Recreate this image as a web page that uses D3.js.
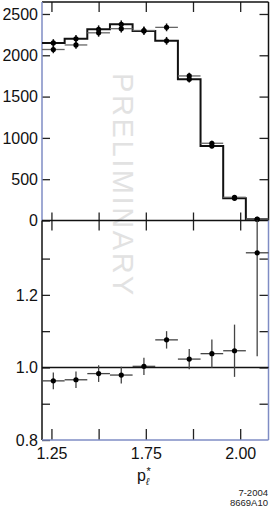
<!DOCTYPE html>
<html><head><meta charset="utf-8">
<script src="https://cdn.jsdelivr.net/npm/d3@7"></script>
<style>
html,body{margin:0;padding:0;background:#fff;}
svg{display:block;}
text{font-family:"Liberation Sans",Arial,Helvetica,sans-serif;}
</style></head>
<body>
<script>
// ---- data ----
const binEdges = [1.475,1.535,1.595,1.655,1.715,1.775,1.835,1.895,1.955,2.015,2.075];
const mcCounts   = [2150,2200,2315,2375,2295,2175,1710,902,269,14];
const dataCounts = [2070,2125,2272,2322,2300,2338,1750,935,281,18];
const countErr   = [45,45,47,47,47,47,40,30,17,4];
const ratio    = [0.963,0.966,0.983,0.979,1.003,1.076,1.023,1.038,1.046,1.316];
const ratioErr = [0.023,0.023,0.023,0.023,0.024,0.024,0.028,0.039,0.072,0.285];
const xTickValues = [1.5,1.625,1.75,1.875,2.0];
const xTickLabels = ["1.25","","1.75","","2.00"];
const upperTicks = [0,500,1000,1500,2000,2500];
const lowerTicks = [0.8,0.9,1.0,1.1,1.2,1.3];
const lowerLabels = {"0.8":"0.8","1":"1.0","1.2":"1.2"};

const W=272,H=509;
const L=42, R=268.5, T=2, MID=220.5, B=440;
const svg=d3.select("body").append("svg").attr("width",W).attr("height",H);

const x=d3.scaleLinear().domain([binEdges[0],binEdges[binEdges.length-1]]).range([L,R]);
const yU=d3.scaleLinear().domain([0,2645]).range([MID,T]);
const yL=d3.scaleLinear().domain([0.8,1.405]).range([B,MID]);

const centers=binEdges.slice(0,-1).map((e,i)=>(e+binEdges[i+1])/2);

// watermark
svg.append("text")
  .attr("transform",`translate(113,73) rotate(90)`)
  .attr("font-size",29).attr("fill","#e2e2e2").attr("letter-spacing",2.6)
  .text("PRELIMINARY");

const fs=16;
function styleAxis(g){
  g.select(".domain").remove();
  g.selectAll(".tick line").attr("stroke","#222").attr("stroke-width",1.3);
  g.selectAll("text").attr("font-size",fs).attr("fill","#111").attr("font-family","Liberation Sans, Arial, sans-serif");
}
// upper y axes
svg.append("g").attr("transform",`translate(${L},0)`)
  .call(d3.axisLeft(yU).tickValues(upperTicks).tickSize(-8).tickPadding(4).tickFormat(d3.format("d")))
  .call(styleAxis);
svg.append("g").attr("transform",`translate(${R},0)`)
  .call(d3.axisRight(yU).tickValues(upperTicks.slice(1)).tickSize(-9).tickFormat(""))
  .call(styleAxis);
// lower y axes
svg.append("g").attr("transform",`translate(${L},0)`)
  .call(d3.axisLeft(yL).tickValues(lowerTicks).tickSize(-8).tickPadding(4)
    .tickFormat(d=>lowerLabels[String(+d.toFixed(2))]||""))
  .call(styleAxis);
svg.append("g").attr("transform",`translate(${R},0)`)
  .call(d3.axisRight(yL).tickValues(lowerTicks.slice(1)).tickSize(-9).tickFormat(""))
  .call(styleAxis);
// x axes
svg.append("g").attr("transform",`translate(0,${T})`)
  .call(d3.axisTop(x).tickValues(xTickValues).tickSize(-10).tickFormat("")).call(styleAxis);
svg.append("g").attr("transform",`translate(0,${MID})`)
  .call(d3.axisBottom(x).tickValues(xTickValues).tickSize(-8).tickFormat("")).call(styleAxis);
svg.append("g").attr("transform",`translate(0,${MID})`)
  .call(d3.axisTop(x).tickValues(xTickValues).tickSize(-10).tickFormat("")).call(styleAxis);
svg.append("g").attr("transform",`translate(0,${B})`)
  .call(d3.axisBottom(x).tickValues(xTickValues).tickSize(-11).tickPadding(8)
    .tickFormat((d,i)=>xTickLabels[i])).call(styleAxis);

// frame
const frame=[
  [L,T,R,T,"#111"],[R,T,R,MID,"#111"],[L,T,L,MID,"#7f8cc4"],
  [L,MID,R,MID,"#111"],[L,MID,L,B,"#111"],[R,MID,R,B,"#7f8cc4"],[L,B,R,B,"#7f8cc4"]
];
svg.selectAll("line.frame").data(frame).enter().append("line").attr("class","frame")
  .attr("x1",d=>d[0]).attr("y1",d=>d[1]).attr("x2",d=>d[2]).attr("y2",d=>d[3])
  .attr("stroke",d=>d[4]).attr("stroke-width",1.5);

// histogram (step)
const stepPts=[];
mcCounts.forEach((v,i)=>{stepPts.push([x(binEdges[i]),yU(v)]);stepPts.push([x(binEdges[i+1]),yU(v)]);});
svg.append("path").attr("d",d3.line()(stepPts)).attr("fill","none")
  .attr("stroke","#111").attr("stroke-width",2);

// data points upper: horizontal bars
const up=svg.append("g");
dataCounts.forEach((v,i)=>{
  up.append("line").attr("x1",x(binEdges[i])).attr("x2",x(binEdges[i+1]))
    .attr("y1",yU(v)).attr("y2",yU(v)).attr("stroke","#666").attr("stroke-width",1.3);
});
[mcCounts,dataCounts].forEach(arr=>{
  arr.forEach((v,i)=>{
    up.append("line").attr("x1",x(centers[i])).attr("x2",x(centers[i]))
      .attr("y1",yU(v-countErr[i])).attr("y2",yU(v+countErr[i])).attr("stroke","#111").attr("stroke-width",1.5);
    up.append("circle").attr("cx",x(centers[i])).attr("cy",yU(v)).attr("r",2.6).attr("fill","#000");
  });
});

// lower panel
svg.append("line").attr("x1",L).attr("x2",R).attr("y1",yL(1)).attr("y2",yL(1))
  .attr("stroke","#111").attr("stroke-width",1.5);
const lo=svg.append("g");
ratio.forEach((v,i)=>{
  lo.append("line").attr("x1",x(binEdges[i])).attr("x2",x(binEdges[i+1]))
    .attr("y1",yL(v)).attr("y2",yL(v)).attr("stroke","#444").attr("stroke-width",1.3);
  lo.append("line").attr("x1",x(centers[i])).attr("x2",x(centers[i]))
    .attr("y1",Math.min(yL(v-ratioErr[i]),B)).attr("y2",Math.max(yL(v+ratioErr[i]),MID))
    .attr("stroke","#444").attr("stroke-width",1.3);
  lo.append("circle").attr("cx",x(centers[i])).attr("cy",yL(v)).attr("r",2.6).attr("fill","#000");
});

// axis title p_l*
const t=svg.append("g").attr("fill","#111");
t.append("text").attr("x",137).attr("y",481).attr("font-size",16).text("p");
t.append("text").attr("x",146).attr("y",485).attr("font-size",10).attr("font-style","italic").text("ℓ");
t.append("text").attr("x",146.5).attr("y",475).attr("font-size",11).text("*");

// figure id
svg.append("text").attr("x",268).attr("y",496).attr("text-anchor","end").attr("font-size",9.5).attr("fill","#222").text("7-2004");
svg.append("text").attr("x",268).attr("y",506).attr("text-anchor","end").attr("font-size",9.5).attr("fill","#222").text("8669A10");
</script>
</body></html>
